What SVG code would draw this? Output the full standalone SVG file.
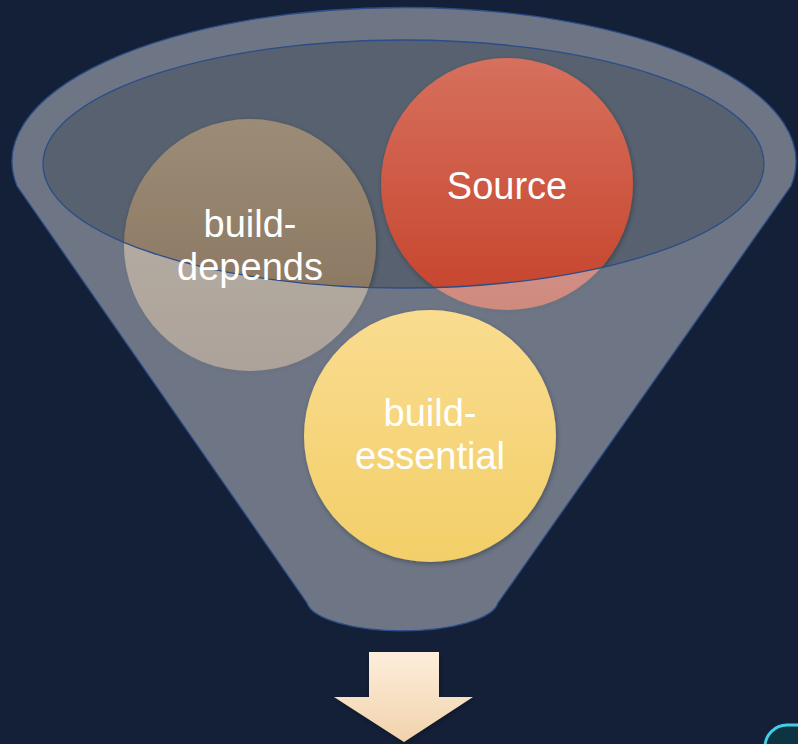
<svg xmlns="http://www.w3.org/2000/svg" width="798" height="744" viewBox="0 0 798 744">
  <defs>
    <linearGradient id="gBrown" x1="0" y1="0" x2="0" y2="1">
      <stop offset="0" stop-color="#9c8c77"/>
      <stop offset="1" stop-color="#86705a"/>
    </linearGradient>
    <linearGradient id="gOrange" x1="0" y1="0" x2="0" y2="1">
      <stop offset="0" stop-color="#d6705e"/>
      <stop offset="1" stop-color="#c6432a"/>
    </linearGradient>
    <linearGradient id="gYellow" x1="0" y1="0" x2="0" y2="1">
      <stop offset="0" stop-color="#fadc90"/>
      <stop offset="1" stop-color="#f2cf68"/>
    </linearGradient>
    <linearGradient id="gArrow" x1="0" y1="0" x2="0" y2="1">
      <stop offset="0" stop-color="#fdeedb"/>
      <stop offset="1" stop-color="#f1d3ac"/>
    </linearGradient>
    <filter id="shadow" x="-20%" y="-20%" width="140%" height="140%">
      <feDropShadow dx="1" dy="2" stdDeviation="2.5" flood-color="#000" flood-opacity="0.3"/>
    </filter>
    <style>
      .lbl { font-family: "Liberation Sans", Arial, sans-serif; font-size: 38px; fill: #ffffff; text-anchor: middle; }
      .edge { fill: none; stroke: #2c4d88; stroke-width: 1.3; }
    </style>
  </defs>

  <rect x="0" y="0" width="798" height="744" fill="#142038"/>

  <g id="funnel-mouth">
    <ellipse cx="403.5" cy="164" rx="360.5" ry="124" fill="#57616f"/>
  </g>

  <g id="node-build-depends">
    <circle cx="250" cy="245" r="126" fill="url(#gBrown)" filter="url(#shadow)"/>
  </g>
  <g id="node-source">
    <circle cx="507" cy="184" r="126" fill="url(#gOrange)" filter="url(#shadow)"/>
  </g>

  <g id="funnel-body">
    <path fill="#dce1e6" fill-opacity="0.45" fill-rule="evenodd"
      d="M 17,186 A 392 154 0 1 1 791,186 L 498,603 A 96 31 0 0 1 307,603 Z
         M 43,164 A 360.5 124 0 1 0 764,164 A 360.5 124 0 1 0 43,164 Z"/>
    <path class="edge" d="M 17,186 A 392 154 0 1 1 791,186 L 498,603 A 96 31 0 0 1 307,603 Z"/>
  </g>

  <g id="node-build-essential">
    <circle cx="430" cy="436" r="126" fill="url(#gYellow)" filter="url(#shadow)"/>
  </g>

  <g id="connectors">
    <ellipse class="edge" cx="403.5" cy="164" rx="360.5" ry="124"/>
    <polygon points="369,652 439,652 439,697 473,697 404,742 334,697 369,697" fill="url(#gArrow)" filter="url(#shadow)"/>
  </g>

  <g id="labels">
    <text class="lbl" x="250" y="237">build-</text>
    <text class="lbl" x="250" y="280">depends</text>
    <text class="lbl" x="507" y="199">Source</text>
    <text class="lbl" x="430" y="426">build-</text>
    <text class="lbl" x="430" y="469">essential</text>
  </g>

  <g id="corner-shape">
    <rect x="765" y="725" width="90" height="60" rx="22" fill="#0e3442" stroke="#3fd0e8" stroke-width="3"/>
  </g>
</svg>
